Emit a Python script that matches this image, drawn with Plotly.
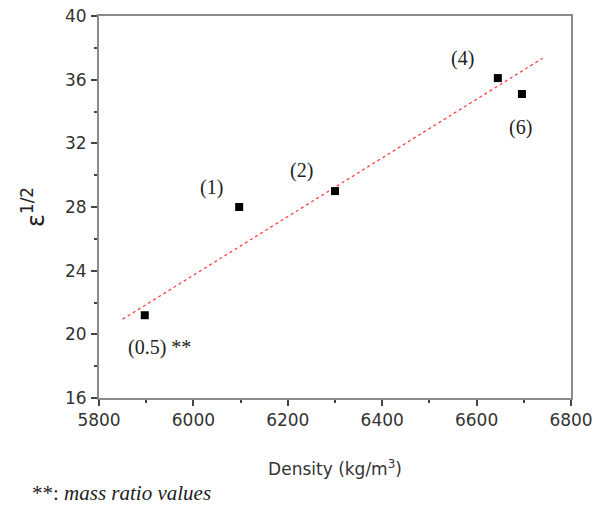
import plotly.graph_objects as go

# ── data ─────────────────────────────────────────────────────────────────────
density = [5897, 6097, 6300, 6645, 6696]
eps_sqrt = [21.2, 28.0, 29.0, 36.1, 35.1]
mass_ratio = ["(0.5) **", "(1)", "(2)", "(4)", "(6)"]

# label anchors (data coords) for each mass-ratio tag
label_x = [5929, 6039, 6230, 6571, 6692]
label_y = [19.2, 29.2, 30.3, 37.3, 33.0]

# dashed trend line end points
fit_x = [5850, 6740]
fit_y = [20.95, 37.35]

AXIS_GREY = "#8a8a8a"
SERIF = "Liberation Serif"
SANS = "DejaVu Sans"

fig = go.Figure()

fig.add_trace(go.Scatter(x=fit_x, y=fit_y, mode="lines",
                         line=dict(color="#ff3b3b", width=1.2, dash="3px,3px"),
                         hoverinfo="skip"))

fig.add_trace(go.Scatter(x=density, y=eps_sqrt, mode="markers",
                         marker=dict(symbol="square", size=8, color="black")))

for lx, ly, txt in zip(label_x, label_y, mass_ratio):
    fig.add_annotation(x=lx, y=ly, text=txt, showarrow=False,
                       font=dict(family=SERIF, size=20, color="#222"))

fig.add_annotation(xref="paper", yref="paper", x=-0.146, y=-0.249,
                   xanchor="left", yanchor="middle", showarrow=False,
                   text="**: <i>mass ratio values</i>",
                   font=dict(family=SERIF, size=21, color="#222"))

axis_common = dict(showline=True, linecolor=AXIS_GREY, linewidth=2, mirror=True,
                   showgrid=False, zeroline=False, ticks="outside", automargin=False,
                   tickcolor="#444", ticklen=6, tickwidth=1.5,
                   tickfont=dict(family=SANS, size=17, color="#333"))

fig.update_xaxes(range=[5800, 6800], dtick=200,
                 minor=dict(ticks="outside", ticklen=3, dtick=100, tickcolor="#444"),
                 ticklabelstandoff=0,
                 title=dict(text="Density (kg/m<sup>3</sup>)", standoff=34,
                            font=dict(family=SANS, size=17, color="#333")),
                 **axis_common)
fig.update_yaxes(range=[16, 40], dtick=4,
                 minor=dict(ticks="outside", ticklen=3, dtick=2, tickcolor="#444"),
                 ticklabelstandoff=1,
                 title=dict(text="ε<sup>1/2</sup>", standoff=14,
                            font=dict(family=SANS, size=24, color="#222")),
                 **axis_common)

fig.update_layout(width=600, height=506, showlegend=False,
                  plot_bgcolor="white", paper_bgcolor="white",
                  margin=dict(l=99, r=29, t=16, b=108))

# page margin off so the 600x506 figure fills the window exactly
fig.write_html("out.html", config={"displayModeBar": False},
               post_script="document.body.style.margin='0';")
